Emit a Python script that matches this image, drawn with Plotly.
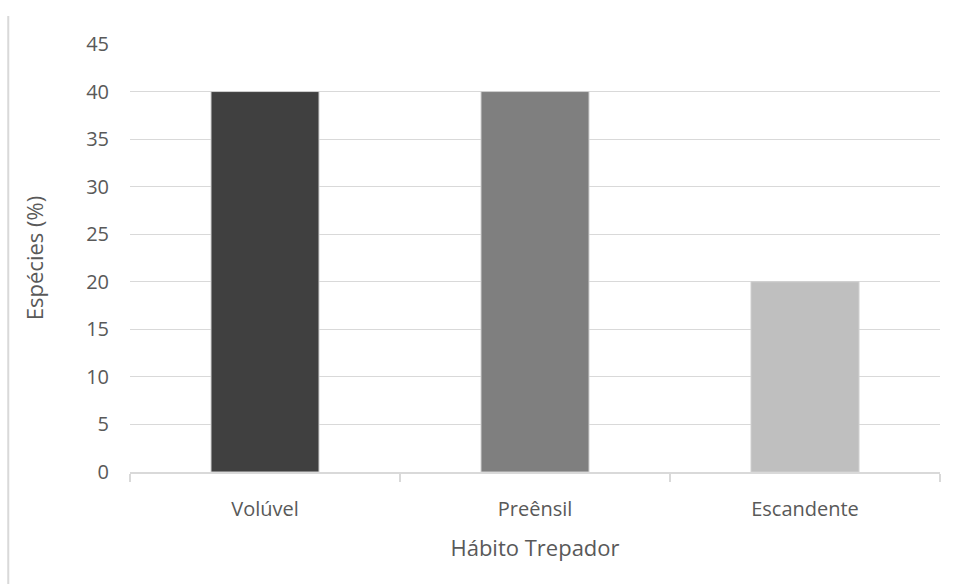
import plotly.graph_objects as go

categories = ["Volúvel", "Preênsil", "Escandente"]
values = [40, 40, 20]
colors = ["#404040", "#7f7f7f", "#bfbfbf"]
y_ticks = [0, 5, 10, 15, 20, 25, 30, 35, 40, 45]

fig = go.Figure(go.Bar(
    x=categories, y=values,
    marker=dict(color=colors, line=dict(color="#d0d0d0", width=1)),
    width=0.4,
))

FONT = "Open Sans, Liberation Sans, sans-serif"
fig.update_layout(
    width=954, height=584,
    margin=dict(l=130, r=14, t=44, b=112),
    paper_bgcolor="white", plot_bgcolor="white",
    font=dict(family=FONT, color="#595959", size=20),
    showlegend=False,
    xaxis=dict(
        type="category",
        showline=True, linecolor="#d9d9d9", linewidth=2,
        ticks="outside", tickson="boundaries", ticklen=8, tickcolor="#d9d9d9", tickwidth=2,
        showgrid=False,
        ticklabelstandoff=18,
        tickfont=dict(size=20, color="#595959"),
        title=dict(text="Hábito Trepador", font=dict(size=22, color="#595959"), standoff=20),
    ),
    yaxis=dict(
        range=[0, 45], tickvals=y_ticks,
        showgrid=True, gridcolor="#d9d9d9", gridwidth=1,
        zeroline=False, showline=False, ticks="",
        ticklabelstandoff=20,
        tickfont=dict(size=20, color="#595959"),
        title=dict(text="Espécies (%)", font=dict(size=22, color="#595959"), standoff=36),
    ),
    shapes=[dict(type="line", xref="paper", yref="paper",
                 x0=-0.1503, x1=-0.1503, y0=(584-16-112)/428, y1=-112/428,
                 line=dict(color="#d9d9d9", width=2))],
)

fig.write_html("out.html")
